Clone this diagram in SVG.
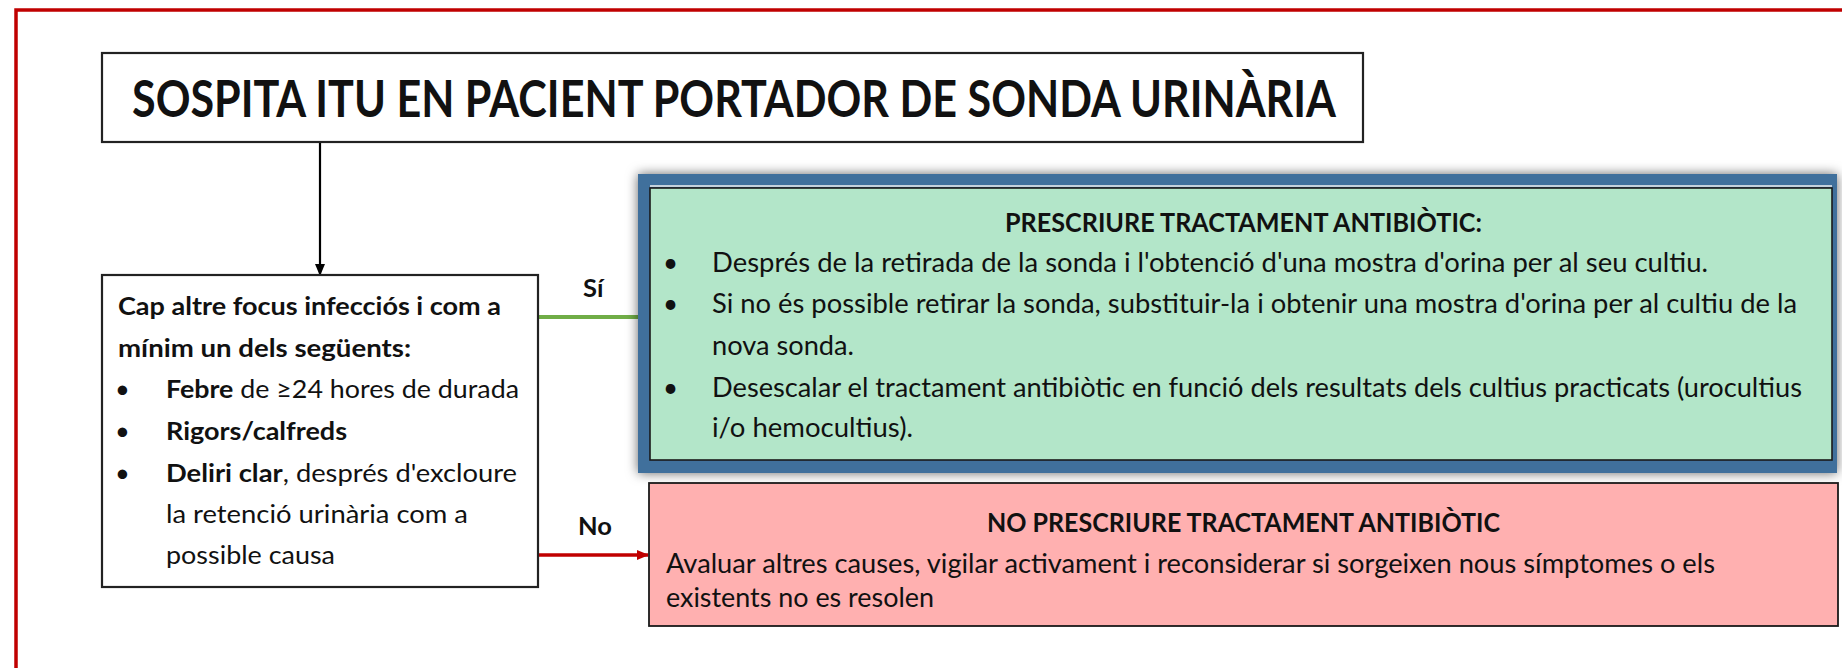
<svg xmlns="http://www.w3.org/2000/svg" width="1842" height="668" viewBox="0 0 1842 668">
<style>
  text { font-family: Lato, "Open Sans", "Liberation Sans", sans-serif; fill: #111; }
  .title { font-size: 51px; font-weight: bold; }
  .body { font-size: 25.5px; }
  .gbody { font-size: 26px; }
  .b { font-weight: bold; }
  .head { font-size: 27px; font-weight: bold; }
  .box { fill: #fff; stroke: #222; stroke-width: 2.2; }
</style>
<defs>
  <marker id="ah" markerWidth="12" markerHeight="10" refX="11" refY="5" orient="auto" markerUnits="userSpaceOnUse">
    <path d="M0,0 L12,5 L0,10 Z" fill="#000"/>
  </marker>
  <marker id="ahr" markerWidth="12" markerHeight="10" refX="11" refY="5" orient="auto" markerUnits="userSpaceOnUse">
    <path d="M0,0 L12,5 L0,10 Z" fill="#c00000"/>
  </marker>
  <filter id="sh" x="-5%" y="-20%" width="110%" height="140%">
    <feDropShadow dx="0" dy="0" stdDeviation="6" flood-color="#000" flood-opacity="0.6"/>
  </filter>
</defs>

<path d="M1842,10 H16 V668" fill="none" stroke="#c00000" stroke-width="3.5"/>

<g id="connectors">
  <line x1="320" y1="142" x2="320" y2="275" stroke="#000" stroke-width="2.2" marker-end="url(#ah)"/>
  <line x1="538" y1="317" x2="640" y2="317" stroke="#70ad47" stroke-width="4"/>
  <line x1="538" y1="555" x2="648" y2="555" stroke="#c00000" stroke-width="3.5" marker-end="url(#ahr)"/>
</g>

<g id="title">
  <rect class="box" x="102" y="53" width="1261" height="89"/>
  <text class="title" x="132" y="117" textLength="1204" lengthAdjust="spacingAndGlyphs">SOSPITA ITU EN PACIENT PORTADOR DE SONDA URINÀRIA</text>
</g>

<g id="condition">
  <rect class="box" x="102" y="275" width="436" height="312"/>
  <text class="body b" x="118" y="315" textLength="383" lengthAdjust="spacingAndGlyphs">Cap altre focus infecciós i com a</text>
  <text class="body b" x="118" y="357" textLength="293" lengthAdjust="spacingAndGlyphs">mínim un dels següents:</text>
  <text class="body" x="115" y="398">•</text>
  <text class="body" x="166" y="398" textLength="353" lengthAdjust="spacingAndGlyphs"><tspan class="b">Febre</tspan> de ≥24 hores de durada</text>
  <text class="body" x="115" y="440">•</text>
  <text class="body b" x="166" y="440" textLength="181" lengthAdjust="spacingAndGlyphs">Rigors/calfreds</text>
  <text class="body" x="115" y="482">•</text>
  <text class="body" x="166" y="482" textLength="351" lengthAdjust="spacingAndGlyphs"><tspan class="b">Deliri clar</tspan>, després d'excloure</text>
  <text class="body" x="166" y="523" textLength="302" lengthAdjust="spacingAndGlyphs">la retenció urinària com a</text>
  <text class="body" x="166" y="564" textLength="169" lengthAdjust="spacingAndGlyphs">possible causa</text>
</g>

<g id="labels">
  <text class="body b" x="583" y="297">Sí</text>
  <text class="body b" x="578" y="535">No</text>
</g>

<g id="prescribe">
  <rect x="638" y="174" width="1199" height="299" fill="#41709c" filter="url(#sh)"/>
  <rect x="650" y="188" width="1182" height="272" fill="#b3e6c9" stroke="#1a1a1a" stroke-width="1.6"/>
  <line x1="650" y1="186" x2="1832" y2="186" stroke="#f2f2f2" stroke-width="1.5"/>
  <text class="head" x="1005" y="232" textLength="477" lengthAdjust="spacingAndGlyphs">PRESCRIURE TRACTAMENT ANTIBIÒTIC:</text>
  <text class="gbody" x="663" y="272">•</text>
  <text class="gbody" x="712" y="272" textLength="996" lengthAdjust="spacingAndGlyphs">Després de la retirada de la sonda i l'obtenció d'una mostra d'orina per al seu cultiu.</text>
  <text class="gbody" x="663" y="313">•</text>
  <text class="gbody" x="712" y="313" textLength="1085" lengthAdjust="spacingAndGlyphs">Si no és possible retirar la sonda, substituir-la i obtenir una mostra d'orina per al cultiu de la</text>
  <text class="gbody" x="712" y="355" textLength="142" lengthAdjust="spacingAndGlyphs">nova sonda.</text>
  <text class="gbody" x="663" y="397">•</text>
  <text class="gbody" x="712" y="397" textLength="1090" lengthAdjust="spacingAndGlyphs">Desescalar el tractament antibiòtic en funció dels resultats dels cultius practicats (urocultius</text>
  <text class="gbody" x="712" y="437" textLength="201" lengthAdjust="spacingAndGlyphs">i/o hemocultius).</text>
</g>

<g id="noprescribe">
  <rect x="649" y="483" width="1189" height="143" fill="#ffb0b0" stroke="#1a1a1a" stroke-width="1.8"/>
  <text class="head" x="987" y="532" textLength="513" lengthAdjust="spacingAndGlyphs">NO PRESCRIURE TRACTAMENT ANTIBIÒTIC</text>
  <text class="gbody" x="666" y="573" textLength="1049" lengthAdjust="spacingAndGlyphs">Avaluar altres causes, vigilar activament i reconsiderar si sorgeixen nous símptomes o els</text>
  <text class="gbody" x="666" y="607" textLength="268" lengthAdjust="spacingAndGlyphs">existents no es resolen</text>
</g>
</svg>
